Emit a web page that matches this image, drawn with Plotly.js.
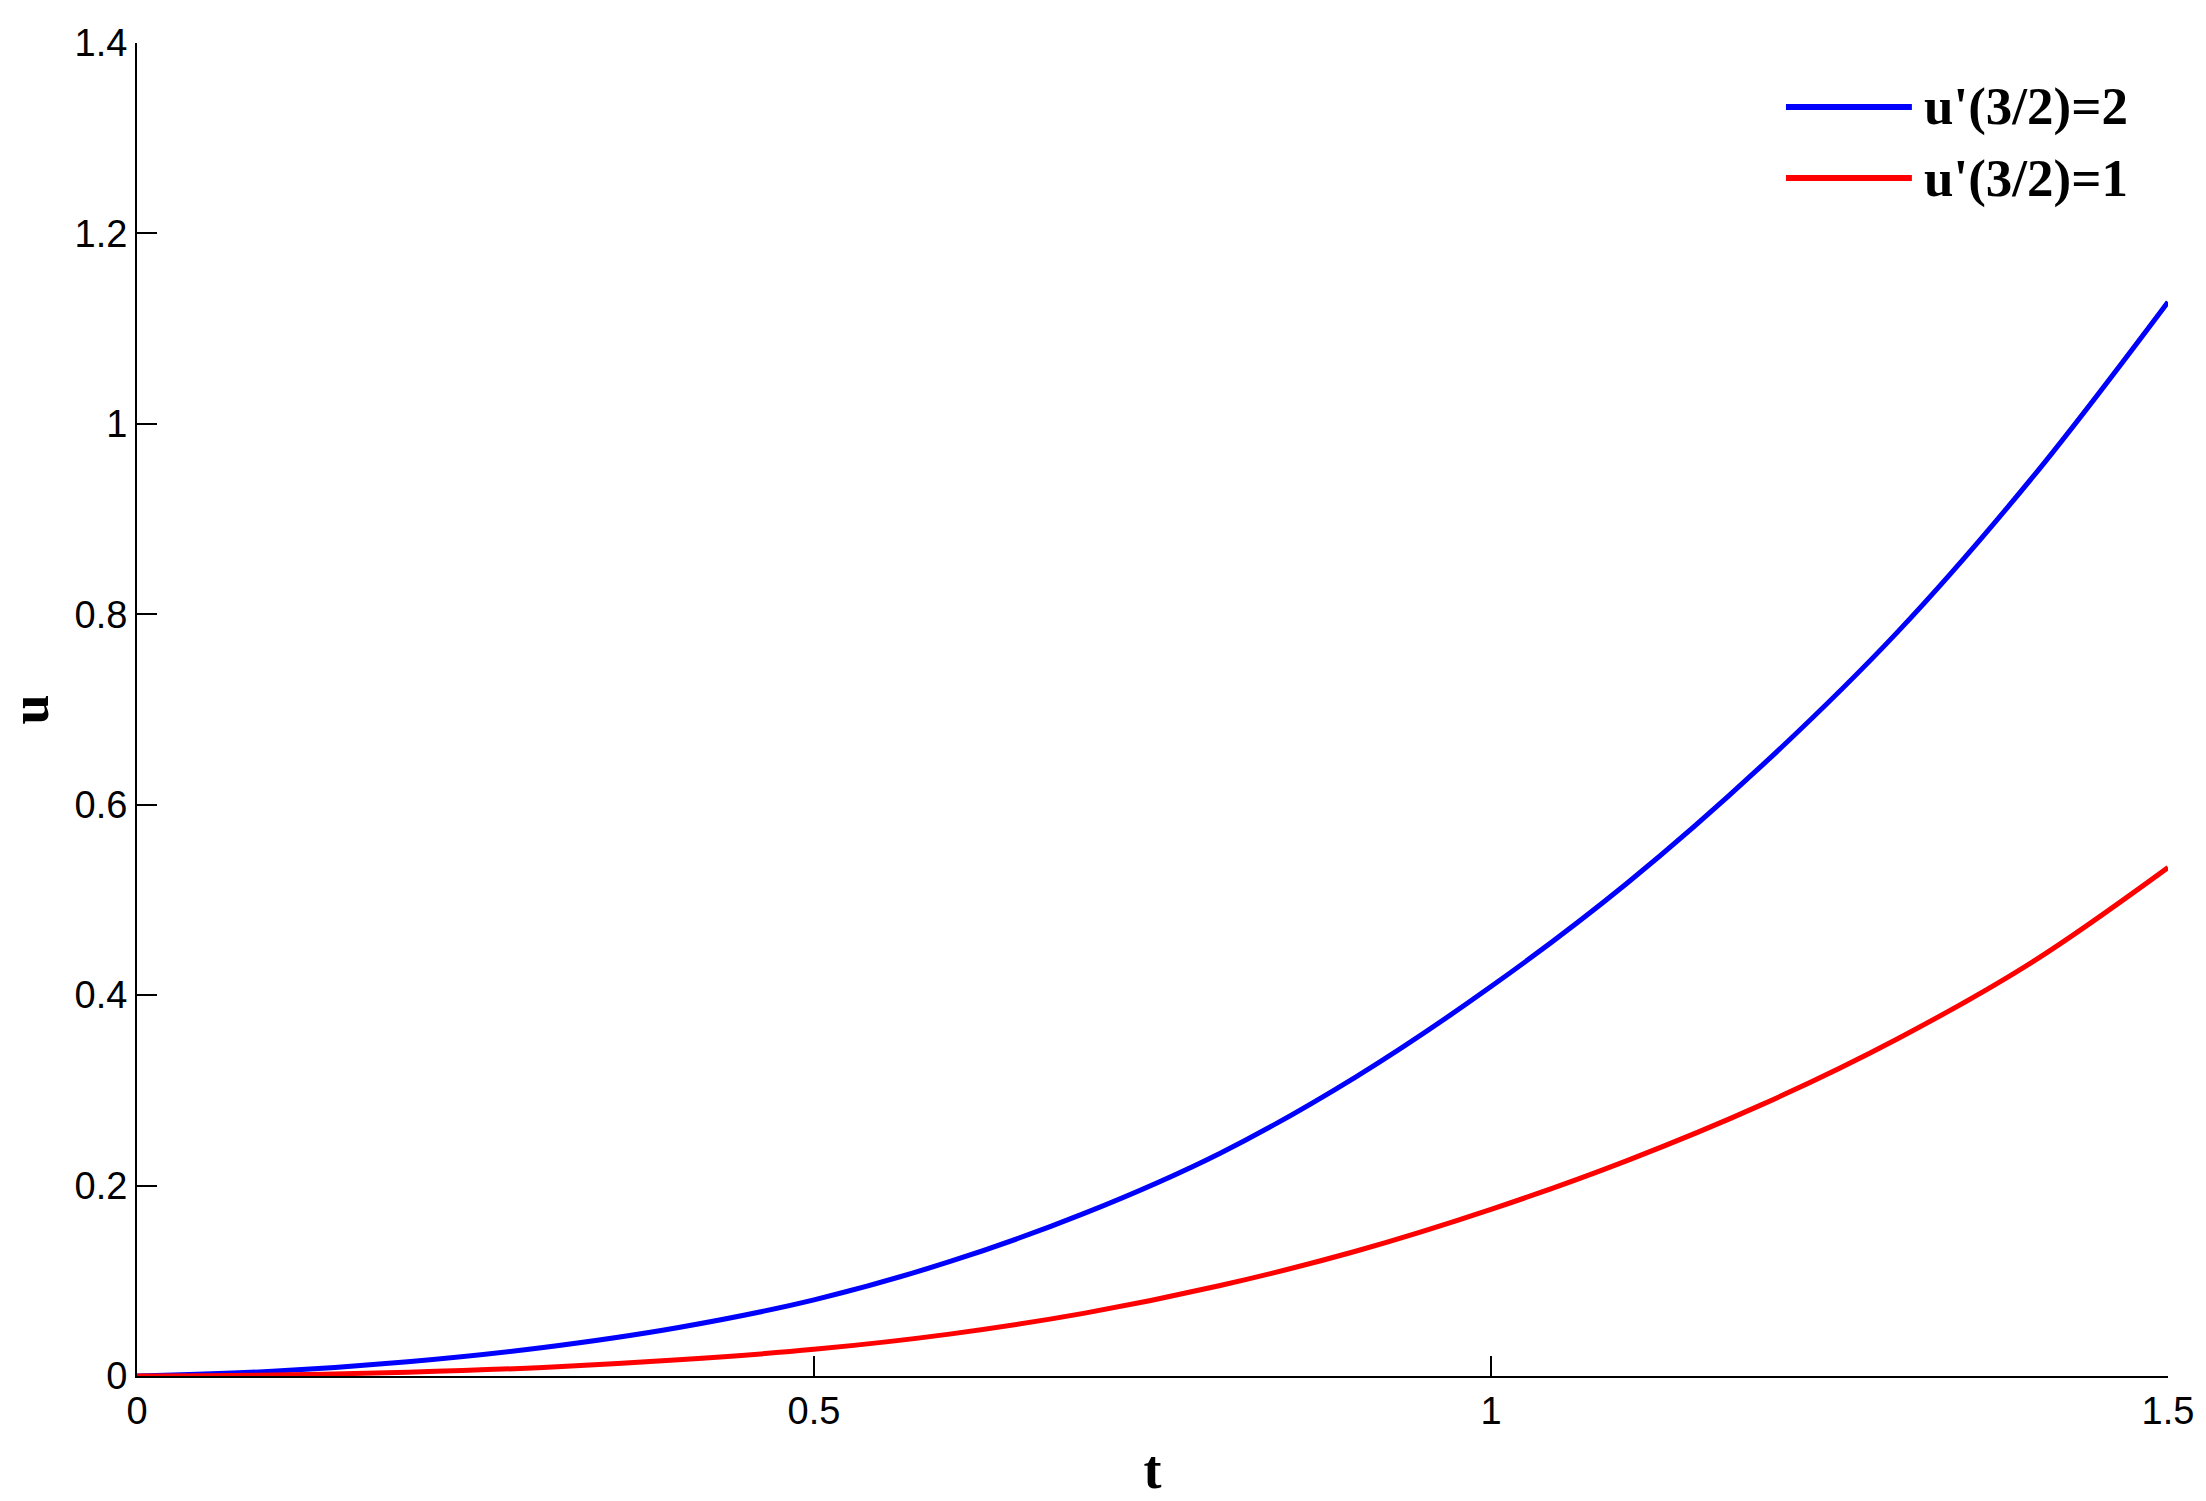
<!DOCTYPE html>
<html>
<head>
<meta charset="utf-8">
<script src="https://cdn.plot.ly/plotly-3.0.1.min.js"></script>
<style>
    html, body { margin: 0; padding: 0; background: #fff; }
    #plot { width: 2206px; height: 1501px; }
</style>
</head>
<body>
<div id="plot"></div>
<script>
// values
const t = [0, 0.1, 0.2, 0.3, 0.4, 0.5, 0.6, 0.7, 0.8, 0.9, 1.0, 1.1, 1.2, 1.3, 1.4, 1.5];
const uSlope2 = [0, 0.005, 0.015, 0.030, 0.051, 0.080, 0.120, 0.171, 0.234, 0.314, 0.409, 0.517, 0.641, 0.781, 0.944, 1.128];
const uSlope1 = [0, 0.001, 0.004, 0.009, 0.017, 0.028, 0.044, 0.066, 0.095, 0.131, 0.175, 0.226, 0.285, 0.354, 0.435, 0.534];

const seriesNames = ["u'(3/2)=2", "u'(3/2)=1"];
const seriesColors = ["rgb(0,0,255)", "rgb(255,0,0)"];

const xTicks = [0, 0.5, 1, 1.5];
const yTicks = [0, 0.2, 0.4, 0.6, 0.8, 1, 1.2, 1.4];

const seriesValues = [uSlope2, uSlope1];

let data = seriesValues.map((vals, i) => ({
    x: t,
    y: vals,
    name: seriesNames[i],
    mode: 'lines',
    type: 'scatter',
    line: { color: seriesColors[i], width: 5, shape: 'spline' },
    showlegend: false,
}));

const tickFont = { family: 'Liberation Sans, Arial, sans-serif', size: 38, color: '#000' };
const titleFont = { family: 'Liberation Serif, Times New Roman, serif', size: 54, color: '#000', weight: 'bold' };

// legend drawn as long line samples like the original (plotly's own legend sample is only 30px)
let shapes = [];
let annotations = [];
const legendRows = [0.952, 0.8987];
seriesNames.forEach((name, i) => {
    shapes.push({
        type: 'line', xref: 'paper', yref: 'paper',
        x0: 0.8119, x1: 0.8739, y0: legendRows[i], y1: legendRows[i],
        line: { color: seriesColors[i], width: 6 },
    });
    annotations.push({
        xref: 'paper', yref: 'paper', x: 0.8789, y: legendRows[i],
        xanchor: 'left', yanchor: 'middle', showarrow: false,
        text: name,
        font: { family: 'Liberation Serif, Times New Roman, serif', size: 53, color: '#000', weight: 'bold' },
    });
});

let layout = {
    width: 2206,
    height: 1501,
    paper_bgcolor: '#fff',
    plot_bgcolor: '#fff',
    margin: { l: 137, r: 38, t: 43, b: 125 },
    showlegend: false,
    xaxis: {
        range: [0, 1.5],
        tickvals: xTicks,
        ticks: 'inside',
        ticklen: 20,
        tickwidth: 2,
        tickcolor: '#000',
        showline: true,
        linewidth: 2,
        linecolor: '#000',
        showgrid: false,
        zeroline: false,
        tickfont: tickFont,
        automargin: false,
        title: { text: 't', font: titleFont, standoff: 20 },
    },
    yaxis: {
        range: [0, 1.4],
        tickvals: yTicks,
        ticks: 'inside',
        ticklen: 20,
        tickwidth: 2,
        tickcolor: '#000',
        showline: true,
        linewidth: 2,
        linecolor: '#000',
        showgrid: false,
        zeroline: false,
        tickfont: tickFont,
        automargin: false,
        title: { text: 'u', font: titleFont, standoff: 20 },
    },
    shapes: shapes,
    annotations: annotations,
};

Plotly.newPlot('plot', data, layout, { staticPlot: true });
</script>
</body>
</html>
